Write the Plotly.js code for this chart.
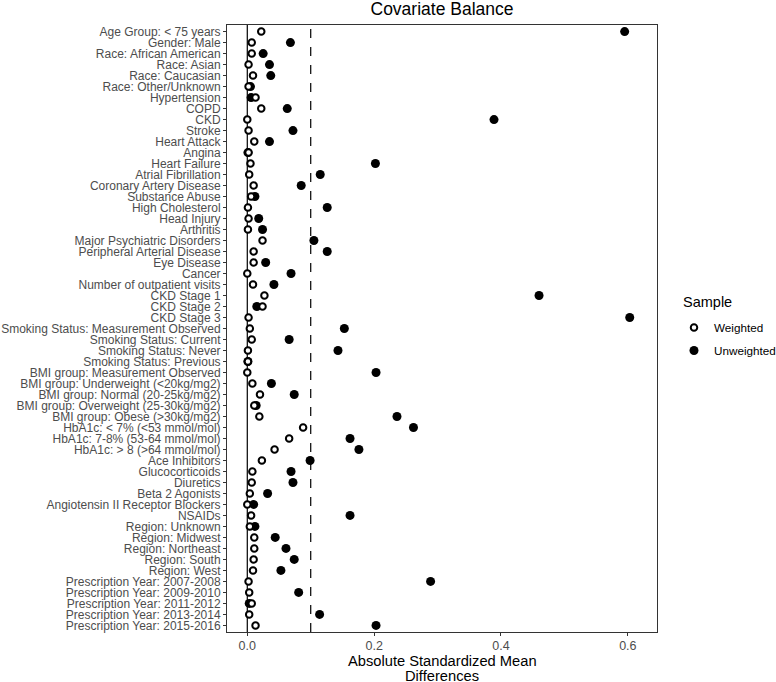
<!DOCTYPE html>
<html>
<head>
<meta charset="utf-8">
<script src="https://cdn.plot.ly/plotly-3.0.1.min.js"></script>
<style>html,body{margin:0;padding:0;background:#fff;} #chart{width:776px;height:682px;}</style>
</head>
<body>
<div id="chart"></div>
<script>
const covariates = [
  "Age Group: < 75 years", "Gender: Male", "Race: African American", "Race: Asian",
  "Race: Caucasian", "Race: Other/Unknown", "Hypertension", "COPD", "CKD", "Stroke",
  "Heart Attack", "Angina", "Heart Failure", "Atrial Fibrillation", "Coronary Artery Disease",
  "Substance Abuse", "High Cholesterol", "Head Injury", "Arthritis", "Major Psychiatric Disorders",
  "Peripheral Arterial Disease", "Eye Disease", "Cancer", "Number of outpatient visits",
  "CKD Stage 1", "CKD Stage 2", "CKD Stage 3", "Smoking Status: Measurement Observed",
  "Smoking Status: Current", "Smoking Status: Never", "Smoking Status: Previous",
  "BMI group: Measurement Observed", "BMI group: Underweight (<20kg/mg2)",
  "BMI group: Normal (20-25kg/mg2)", "BMI group: Overweight (25-30kg/mg2)",
  "BMI group: Obese (>30kg/mg2)", "HbA1c: < 7% (<53 mmol/mol)", "HbA1c: 7-8% (53-64 mmol/mol)",
  "HbA1c: > 8 (>64 mmol/mol)", "Ace Inhibitors", "Glucocorticoids", "Diuretics",
  "Beta 2 Agonists", "Angiotensin II Receptor Blockers", "NSAIDs", "Region: Unknown",
  "Region: Midwest", "Region: Northeast", "Region: South", "Region: West",
  "Prescription Year: 2007-2008", "Prescription Year: 2009-2010", "Prescription Year: 2011-2012",
  "Prescription Year: 2013-2014", "Prescription Year: 2015-2016"
];

const weighted = [
  0.022, 0.007, 0.007, 0.002, 0.009, 0.002, 0.013, 0.022, 0.000, 0.002,
  0.011, 0.002, 0.005, 0.003, 0.010, 0.006, 0.001, 0.002, 0.001, 0.024,
  0.010, 0.010, 0.000, 0.009, 0.027, 0.024, 0.002, 0.004, 0.007, 0.001,
  0.001, 0.000, 0.008, 0.020, 0.011, 0.019, 0.088, 0.066, 0.043, 0.023,
  0.008, 0.007, 0.004, 0.000, 0.006, 0.004, 0.011, 0.011, 0.010, 0.009,
  0.002, 0.003, 0.007, 0.003, 0.013
];

const unweighted = [
  0.595, 0.068, 0.025, 0.035, 0.037, 0.005, 0.006, 0.063, 0.389, 0.072,
  0.035, 0.001, 0.202, 0.115, 0.085, 0.012, 0.126, 0.018, 0.024, 0.105,
  0.126, 0.029, 0.069, 0.042, 0.460, 0.015, 0.603, 0.153, 0.066, 0.143,
  0.001, 0.203, 0.038, 0.074, 0.014, 0.236, 0.262, 0.162, 0.176, 0.099,
  0.069, 0.072, 0.032, 0.010, 0.162, 0.012, 0.044, 0.061, 0.074, 0.053,
  0.289, 0.081, 0.003, 0.114, 0.203
];

const xTicks = [0, 0.2, 0.4, 0.6];
const xTickText = ["0.0", "0.2", "0.4", "0.6"];
const threshold = 0.1;

const FONT = "Liberation Sans, Arial, sans-serif";

const traces = [
  {
    type: "scatter", mode: "markers", name: "Unweighted",
    x: unweighted, y: covariates,
    marker: {symbol: "circle", size: 9, color: "#000000", line: {width: 0}},
    legendrank: 2, legendgroup: "u", hoverinfo: "x+y"
  },
  {
    type: "scatter", mode: "markers", name: "Weighted",
    x: weighted, y: covariates,
    marker: {symbol: "circle", size: 6.5, color: "#ffffff", line: {width: 2, color: "#000000"}},
    legendrank: 1, legendgroup: "w", hoverinfo: "x+y"
  }
];

const layout = {
  width: 776, height: 682,
  paper_bgcolor: "#ffffff", plot_bgcolor: "#ffffff",
  margin: {l: 227, r: 119, t: 25, b: 50, pad: 0},
  font: {family: FONT, color: "#1a1a1a", size: 12},
  title: {
    text: "Covariate Balance",
    font: {family: FONT, size: 17.5, color: "#000000"},
    xref: "paper", x: 0.5, xanchor: "center",
    yref: "container", y: 1 - 8.5 / 682, yanchor: "middle"
  },
  xaxis: {
    range: [-0.032, 0.646],
    tickvals: xTicks, ticktext: xTickText,
    ticks: "outside", ticklen: 3, tickcolor: "#333333", tickwidth: 1,
    tickfont: {family: FONT, size: 12.5, color: "#4d4d4d"},
    ticklabelstandoff: -1,
    showgrid: false, zeroline: false,
    showline: true, mirror: true, linecolor: "#333333", linewidth: 1
  },
  yaxis: {
    type: "category",
    categoryorder: "array", categoryarray: covariates,
    tickmode: "array", tickvals: covariates, ticktext: covariates,
    range: [covariates.length - 1 + 0.6, -0.6],
    ticks: "outside", ticklen: 3, tickcolor: "#333333", tickwidth: 1,
    tickfont: {family: FONT, size: 12, color: "#4d4d4d"},
    showgrid: false, zeroline: false,
    showline: true, mirror: true, linecolor: "#333333", linewidth: 1
  },
  shapes: [
    {type: "line", xref: "x", yref: "paper", x0: 0, x1: 0, y0: 0, y1: 1,
     line: {color: "#000000", width: 1.2}, layer: "below"},
    {type: "line", xref: "x", yref: "paper", x0: threshold, x1: threshold, y0: 0, y1: 1,
     line: {color: "#000000", width: 1.2, dash: "dash"}, layer: "below"}
  ],
  annotations: [
    {text: "Absolute Standardized Mean", xref: "paper", yref: "paper", x: 0.5, y: 0,
     xanchor: "center", yanchor: "middle", yshift: -28.7, showarrow: false,
     font: {family: FONT, size: 14.7, color: "#000000"}},
    {text: "Differences", xref: "paper", yref: "paper", x: 0.5, y: 0,
     xanchor: "center", yanchor: "middle", yshift: -44, showarrow: false,
     font: {family: FONT, size: 14.7, color: "#000000"}},
    {text: "Sample", xref: "paper", yref: "paper", x: 1, xanchor: "left", xshift: 24,
     y: (632 - 301.7) / 607, yanchor: "middle", showarrow: false,
     font: {family: FONT, size: 14.5, color: "#000000"}}
  ],
  showlegend: true,
  legend: {
    font: {family: FONT, size: 11.7, color: "#000000"},
    xref: "container", x: 674 / 776, xanchor: "left",
    yref: "container", y: 1 - 313 / 682, yanchor: "top",
    bgcolor: "rgba(0,0,0,0)", borderwidth: 0,
    tracegroupgap: 4,
    itemsizing: "trace"
  },
  hovermode: "closest"
};

Plotly.newPlot("chart", traces, layout, {displayModeBar: false, staticPlot: true});
</script>
</body>
</html>
